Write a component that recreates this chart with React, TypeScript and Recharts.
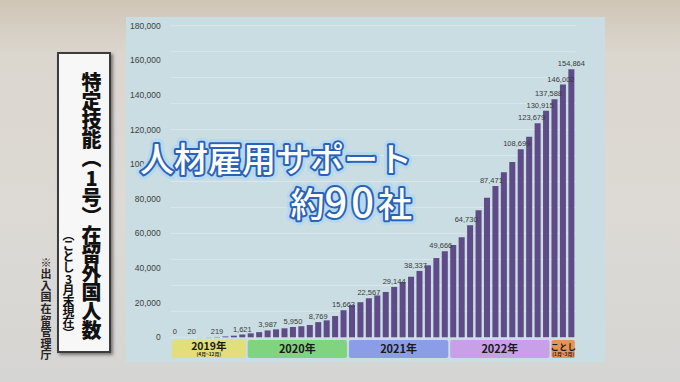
import React from 'react';
import { BarChart, Bar, XAxis, YAxis, CartesianGrid, ReferenceArea, LabelList } from 'recharts';

// month-end counts, Apr 2019 .. Mar 2023
const months = [
  '2019/4', '2019/5', '2019/6', '2019/7', '2019/8', '2019/9', '2019/10', '2019/11', '2019/12',
  '2020/1', '2020/2', '2020/3', '2020/4', '2020/5', '2020/6', '2020/7', '2020/8', '2020/9', '2020/10', '2020/11', '2020/12',
  '2021/1', '2021/2', '2021/3', '2021/4', '2021/5', '2021/6', '2021/7', '2021/8', '2021/9', '2021/10', '2021/11', '2021/12',
  '2022/1', '2022/2', '2022/3', '2022/4', '2022/5', '2022/6', '2022/7', '2022/8', '2022/9', '2022/10', '2022/11', '2022/12',
  '2023/1', '2023/2', '2023/3',
];

const counts = [
  0, 0, 20, 60, 130, 219, 520, 950, 1621,
  2300, 3000, 3987, 4600, 5200, 5950, 6400, 7100, 8769, 9800, 12300, 15663,
  18600, 20300, 22567, 24200, 26200, 29144, 31900, 35000, 38337, 41600, 45800, 49666,
  53300, 57800, 64730, 73400, 80600, 87471, 95400, 101300, 108699, 115900, 123679, 130915,
  137588, 146002, 154864,
];

// bars that carry a value label
const labeledIdx = [0, 2, 5, 8, 11, 14, 17, 20, 23, 26, 29, 32, 35, 38, 41, 43, 44, 45, 46, 47];

const yTicks = [0, 20000, 40000, 60000, 80000, 100000, 120000, 140000, 160000, 180000];
const gridValues = Array.from({ length: 37 }, (_, i) => i * 5000);

const periodNames = ['2019年', '2020年', '2021年', '2022年', 'ことし'];
const periodSubs = ['(4月~12月)', '', '', '', '(1月~3月)'];
const periodFrom = ['2019/4', '2020/1', '2021/1', '2022/1', '2023/1'];
const periodTo = ['2019/12', '2020/12', '2021/12', '2022/12', '2023/3'];
const BAND_COLORS = ['#e2df7a', '#80d47f', '#8b9de6', '#c8a0e8', '#e69357'];

const data = months.map((m, i) => ({
  month: m,
  count: counts[i],
  tag: labeledIdx.includes(i) ? counts[i].toLocaleString('en-US') : '',
}));

const JP = '"Noto Sans CJK JP", "Noto Sans", sans-serif';
const MARGIN = { top: 25.7, right: 104.2, bottom: 23.9, left: 0 };
const Y_DOMAIN: [number, number] = [-12000, 180000];

// crowded labels on the right sit a little left of their bar
function tagShift(i: number) {
  if (i >= 47) return 0;
  if (i === 46) return -2;
  if (i >= 43) return -6;
  if (i >= 29) return -4;
  return 0;
}

function renderTag(props: any) {
  const { x, y, width, value } = props;
  if (value === '' || value == null) return null;
  const i = data.findIndex((d) => d.tag === value);
  return (
    <text
      x={Number(x) + Number(width) / 2 + tagShift(i)}
      y={Number(y) - 3}
      textAnchor="middle"
      fontSize={7.5}
      fontFamily='"Liberation Sans", Arial, sans-serif'
      fill="#3a3a3a"
    >
      {value}
    </text>
  );
}

function bandShape(i: number) {
  return (sp: any) => {
    const x = Number(sp.x) + 1;
    const w = Number(sp.width) - 2;
    const y = Number(sp.y);
    const h = Number(sp.height);
    const cx = x + w / 2;
    const sub = periodSubs[i];
    const small = i === 4;
    return (
      <g>
        <rect x={x} y={y} width={w} height={h} rx={2} fill={BAND_COLORS[i]} />
        <text
          x={cx}
          y={sub ? y + 10 : y + 13}
          textAnchor="middle"
          fontSize={small ? 8.5 : sub ? 10.5 : 11}
          fontWeight={700}
          fontFamily={JP}
          fill="#1a1a1a"
        >
          {periodNames[i]}
        </text>
        {sub && (
          <text x={cx} y={y + 16.3} textAnchor="middle" fontSize={4.8} fontWeight={700} fontFamily={JP} fill="#1a1a1a">
            {sub}
          </text>
        )}
      </g>
    );
  };
}

export default function App() {
  return (
    <div
      style={{
        position: 'absolute',
        left: 0,
        top: 0,
        width: 680,
        height: 382,
        overflow: 'hidden',
        background: 'linear-gradient(180deg, #d0c6b7 0%, #dbd6ce 14%, #dddad5 55%, #d5d5d3 100%)',
      }}
    >
      {/* chart panel */}
      <div
        style={{
          position: 'absolute',
          left: 126,
          top: 17,
          width: 479,
          height: 345,
          background: '#c9dde3',
        }}
      />

      {/* title box */}
      <div
        style={{
          position: 'absolute',
          left: 57,
          top: 52,
          width: 50,
          height: 297,
          background: '#f7f7f7',
          border: '2px solid #3c3c3c',
          boxShadow: '2px 2px 3px rgba(0,0,0,0.45)',
        }}
      />
      <div
        style={{
          position: 'absolute',
          left: 81,
          top: 72,
          writingMode: 'vertical-rl',
          fontFamily: JP,
          fontSize: 20,
          lineHeight: '21px',
          fontWeight: 900,
          letterSpacing: -1,
          color: '#111',
          whiteSpace: 'nowrap',
        }}
      >
        特定技能（<span style={{ textCombineUpright: 'all' } as any}>1</span>号）在留外国人数
      </div>
      <div
        style={{
          position: 'absolute',
          left: 62,
          top: 229,
          writingMode: 'vertical-rl',
          fontFamily: JP,
          fontSize: 12,
          lineHeight: '13px',
          fontWeight: 700,
          letterSpacing: -1.2,
          color: '#111',
          whiteSpace: 'nowrap',
        }}
      >
        （ことし<span style={{ textCombineUpright: 'all' } as any}>3</span>月末現在）
      </div>
      <div
        style={{
          position: 'absolute',
          left: 40,
          top: 257,
          writingMode: 'vertical-rl',
          fontFamily: JP,
          fontSize: 11,
          lineHeight: '12px',
          fontWeight: 700,
          letterSpacing: 0.6,
          color: '#222',
          whiteSpace: 'nowrap',
        }}
      >
        ※出入国在留管理庁
      </div>

      <div style={{ position: 'absolute', left: 0, top: 0 }}>
        <BarChart width={680} height={382} data={data} margin={MARGIN}>
          <CartesianGrid vertical={false} horizontalValues={gridValues} stroke="#d9e7eb" strokeWidth={1} />
          <XAxis dataKey="month" hide />
          <YAxis
            domain={Y_DOMAIN}
            ticks={yTicks}
            width={170.8}
            tickLine={false}
            axisLine={false}
            tickSize={0}
            tickMargin={10}
            allowDataOverflow
            tick={{ fontSize: 8.5, fill: '#404040', fontFamily: '"Liberation Sans", Arial, sans-serif' }}
            tickFormatter={(v: number) => v.toLocaleString('en-US')}
          />
          {periodNames.map((p, i) => (
            <ReferenceArea
              key={p}
              x1={periodFrom[i]}
              x2={periodTo[i]}
              y1={-12000}
              y2={-1600}
              ifOverflow="visible"
              shape={bandShape(i)}
            />
          ))}
          <Bar dataKey="count" fill="#5e4b87" barSize={6} isAnimationActive={false} />
        </BarChart>
      </div>

      {/* value labels, drawn in a second layer so they sit over the bars */}
      <div style={{ position: 'absolute', left: 0, top: 0 }}>
        <BarChart width={680} height={382} data={data} margin={MARGIN}>
          <XAxis dataKey="month" hide />
          <YAxis
            domain={Y_DOMAIN}
            ticks={yTicks}
            width={170.8}
            tick={false}
            tickLine={false}
            axisLine={false}
            allowDataOverflow
          />
          <Bar dataKey="count" fill="none" barSize={6} minPointSize={0.01} isAnimationActive={false}>
            <LabelList dataKey="tag" content={renderTag} />
          </Bar>
        </BarChart>
      </div>

      {/* overlay caption */}
      <svg width={680} height={382} style={{ position: 'absolute', left: 0, top: 0, pointerEvents: 'none' }}>
        <g fontFamily={JP} fontWeight={500} textAnchor="end">
          <text x={412} y={172} fontSize={34} fill="none" stroke="#b3d8f4" strokeWidth={10} strokeLinejoin="round" opacity={0.85}>
            人材雇用サポート
          </text>
          <text x={412} y={172} fontSize={34} fill="#ffffff" stroke="#2a62b5" strokeWidth={4} strokeLinejoin="round" paintOrder="stroke">
            人材雇用サポート
          </text>
          <text x={412} y={217} fontSize={34} fill="none" stroke="#b3d8f4" strokeWidth={10} strokeLinejoin="round" opacity={0.85}>
            約<tspan fontSize={40} letterSpacing={4}>90</tspan>社
          </text>
          <text x={412} y={217} fontSize={34} fill="#ffffff" stroke="#2a62b5" strokeWidth={4} strokeLinejoin="round" paintOrder="stroke">
            約<tspan fontSize={40} letterSpacing={4}>90</tspan>社
          </text>
        </g>
      </svg>
    </div>
  );
}
